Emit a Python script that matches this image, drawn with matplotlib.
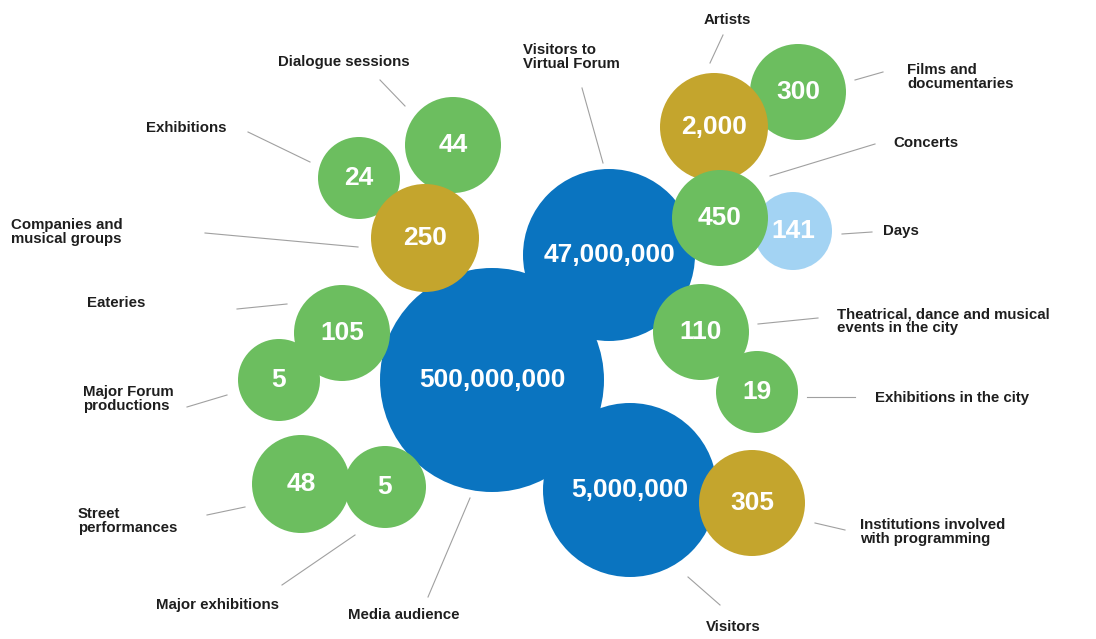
import matplotlib.pyplot as plt
from matplotlib.patches import Circle

plt.rcParams['font.family'] = ['Liberation Sans', 'DejaVu Sans']

# data
values = ["47,000,000", "500,000,000", "5,000,000", "24", "44", "250", "300", "2,000",
          "141", "450", "110", "19", "305", "105", "5", "48", "5"]
labels = ["Visitors to\nVirtual Forum", "Media audience", "Visitors", "Exhibitions",
          "Dialogue sessions", "Companies and\nmusical groups", "Films and\ndocumentaries",
          "Artists", "Days", "Concerts", "Theatrical, dance and musical\nevents in the city",
          "Exhibitions in the city", "Institutions involved\nwith programming", "Eateries",
          "Major Forum\nproductions", "Street\nperformances", "Major exhibitions"]
kinds = ["big", "big", "big", "green", "green", "gold", "green", "gold",
         "light", "green", "green", "green", "gold", "green", "green", "green", "green"]

# layout (pixel coords, y down)
centers = [(609, 255), (492, 380), (630, 490), (359, 178), (453, 145), (425, 238),
           (798, 92), (714, 127), (793, 231), (720, 218), (701, 332), (757, 392),
           (752, 503), (342, 333), (279, 380), (301, 484), (385, 487)]
radii = [86, 112, 87, 41, 48, 54, 48, 54, 39, 48, 48, 41, 53, 48, 41, 49, 41]
label_pos = [(523, 57, 'left'), (404, 615, 'center'), (733, 627, 'center'),
             (186, 128, 'center'), (344, 62, 'center'), (11, 232, 'left'),
             (907, 77, 'left'), (727, 20, 'center'), (883, 231, 'left'),
             (893, 143, 'left'), (837, 321, 'left'), (875, 398, 'left'),
             (860, 532, 'left'), (116, 303, 'center'), (83, 399, 'left'),
             (78, 521, 'left'), (218, 605, 'center')]
leaders = [((582, 88), (603, 163)), ((428, 597), (470, 498)), ((688, 577), (720, 605)),
           ((248, 132), (310, 162)), ((380, 80), (405, 106)), ((205, 233), (358, 247)),
           ((855, 80), (883, 72)), ((723, 35), (710, 63)), ((842, 234), (872, 232)),
           ((770, 176), (875, 144)), ((758, 324), (818, 318)), ((807, 397), (855, 397)),
           ((815, 523), (845, 530)), ((237, 309), (287, 304)), ((187, 407), (227, 395)),
           ((207, 515), (245, 507)), ((282, 585), (355, 535))]

colors = {"big": "#0a74c0", "green": "#6cbe5f", "gold": "#c4a52d", "light": "#a3d3f3"}

fig = plt.figure(figsize=(10.96, 6.39), dpi=100)
ax = fig.add_axes([0, 0, 1, 1])
ax.set_xlim(0, 1096)
ax.set_ylim(639, 0)
ax.set_aspect('equal')
ax.axis('off')

for i in range(len(values)):
    (cx, cy), r = centers[i], radii[i]
    ax.add_patch(Circle((cx, cy), r, facecolor=colors[kinds[i]], edgecolor='none', zorder=2 + i * 0.01))
    ax.text(cx, cy, values[i], color='white', fontsize=19, fontweight='bold',
            ha='center', va='center', zorder=3)
    lx, ly, ha = label_pos[i]
    ax.text(lx, ly, labels[i], color='#1e1e1e', fontsize=10.8, fontweight='bold',
            ha=ha, va='center', linespacing=0.92, multialignment='left', zorder=3)
    (x0, y0), (x1, y1) = leaders[i]
    ax.plot([x0, x1], [y0, y1], color='#a0a0a0', lw=0.8, zorder=1)

fig.savefig('out.png', dpi=100)
